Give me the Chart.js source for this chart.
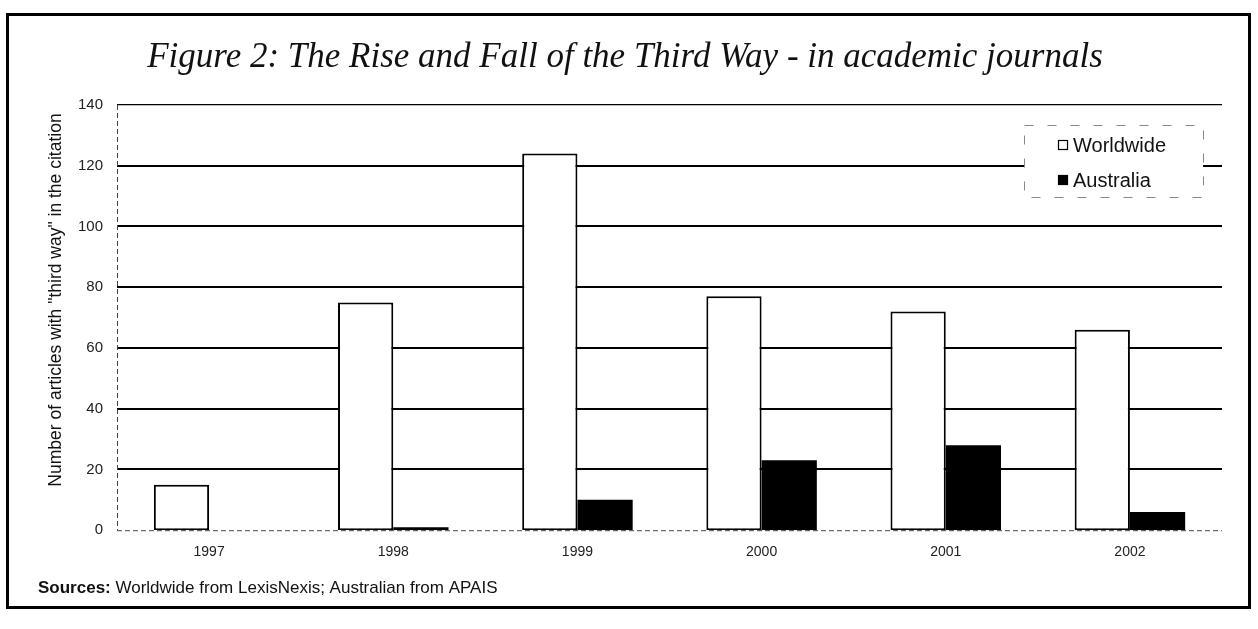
<!DOCTYPE html>
<html>
<head>
<meta charset="utf-8">
<title>The Rise and Fall of the Third Way</title>
<script src="https://cdn.jsdelivr.net/npm/chart.js@4.4.0/dist/chart.umd.min.js"></script>
<style>
  html, body { margin: 0; padding: 0; background: #fff; }
  #wrap { position: relative; width: 1258px; height: 629px; overflow: hidden; }
  #frame {
    position: absolute; left: 6px; top: 13px; width: 1239px; height: 590px;
    border: 3px solid #000; box-sizing: content-box;
  }
  #chart { position: absolute; left: 0; top: 0; }
</style>
</head>
<body>
<div id="wrap">
  <div id="frame"></div>
  <canvas id="chart" width="1258" height="629"></canvas>
</div>
<script>
// Articles citing "third way" in academic journals, by year
const years = ['1997', '1998', '1999', '2000', '2001', '2002'];
const worldwide = [15, 75, 124, 77, 72, 66];
const australia = [0, 1, 10, 23, 28, 6];
const yTicks = [0, 20, 40, 60, 80, 100, 120, 140];

const titleText = 'Figure 2: The Rise and Fall of the Third Way - in academic journals';
const yTitle = 'Number of articles with "third way" in the citation';
const sourceLead = 'Sources:';
const sourceText = ' Worldwide from LexisNexis; Australian from APAIS';

const sans = '"Liberation Sans", Arial, sans-serif';
const serif = '"Liberation Serif", "Times New Roman", serif';

// Figure heading, centred across the page
const figureTitle = {
  id: 'figureTitle',
  afterDraw(chart) {
    const ctx = chart.ctx;
    ctx.save();
    ctx.font = 'italic 35px ' + serif;
    ctx.fillStyle = '#111';
    ctx.textAlign = 'center';
    ctx.textBaseline = 'middle';
    ctx.fillText(titleText, 625, 58);
    ctx.restore();
  }
};

// Thin dashed axis lines along the left and bottom of the plot
const dashedAxes = {
  id: 'dashedAxes',
  beforeDatasetsDraw(chart) {
    const { ctx, chartArea: a } = chart;
    ctx.save();
    ctx.strokeStyle = '#444';
    ctx.lineWidth = 1;
    ctx.setLineDash([5, 3]);
    ctx.beginPath();
    ctx.moveTo(a.left + 0.5, a.top);
    ctx.lineTo(a.left + 0.5, a.bottom);
    ctx.moveTo(a.left, a.bottom + 0.5);
    ctx.lineTo(a.right, a.bottom + 0.5);
    ctx.stroke();
    ctx.restore();
  }
};

// Rotated title for the value axis
const valueAxisTitle = {
  id: 'valueAxisTitle',
  afterDraw(chart) {
    const ctx = chart.ctx;
    ctx.save();
    ctx.translate(56, 300);
    ctx.rotate(-Math.PI / 2);
    ctx.font = '17.5px ' + sans;
    ctx.fillStyle = '#111';
    ctx.textAlign = 'center';
    ctx.textBaseline = 'middle';
    ctx.fillText(yTitle, 0, 0);
    ctx.restore();
  }
};

// Boxed legend in the upper right of the plot, drawn over the grid
const boxLegend = {
  id: 'boxLegend',
  afterDraw(chart) {
    const ctx = chart.ctx;
    const x0 = 1024, y0 = 125, w = 179, h = 72;
    ctx.save();
    ctx.fillStyle = '#fff';
    ctx.fillRect(x0, y0, w, h);
    ctx.strokeStyle = '#888';
    ctx.lineWidth = 1;
    ctx.setLineDash([9, 14]);
    ctx.strokeRect(x0 + 0.5, y0 + 0.5, w, h);
    ctx.setLineDash([]);
    ctx.font = '20px ' + sans;
    ctx.textBaseline = 'middle';
    chart.data.datasets.forEach((d, i) => {
      const cy = 145 + i * 35;
      ctx.fillStyle = d.backgroundColor;
      ctx.fillRect(1058, cy - 5, 10, 10);
      ctx.strokeStyle = '#000';
      ctx.lineWidth = 1.2;
      ctx.strokeRect(1058.5, cy - 4.5, 9, 9);
      ctx.fillStyle = '#111';
      ctx.fillText(d.label, 1073, cy + 1);
    });
    ctx.restore();
  }
};

// Source note under the axis
const sourceNote = {
  id: 'sourceNote',
  afterDraw(chart) {
    const ctx = chart.ctx;
    ctx.save();
    ctx.textBaseline = 'alphabetic';
    ctx.fillStyle = '#111';
    ctx.font = 'bold 17px ' + sans;
    ctx.fillText(sourceLead, 38, 593);
    const lw = ctx.measureText(sourceLead).width;
    ctx.font = '17px ' + sans;
    ctx.fillText(sourceText, 38 + lw, 593);
    ctx.restore();
  }
};

new Chart(document.getElementById('chart'), {
  type: 'bar',
  data: {
    labels: years,
    datasets: [
      {
        label: 'Worldwide',
        data: worldwide,
        backgroundColor: '#ffffff',
        borderColor: '#000000',
        borderWidth: 2,
        borderSkipped: false
      },
      {
        label: 'Australia',
        data: australia,
        backgroundColor: '#000000',
        borderColor: '#000000',
        borderWidth: 0
      }
    ]
  },
  options: {
    responsive: false,
    animation: false,
    devicePixelRatio: 1,
    layout: { padding: { left: 64, right: 36, top: 105, bottom: 54 } },
    datasets: {
      bar: { categoryPercentage: 0.6, barPercentage: 1.0 }
    },
    plugins: {
      legend: { display: false },
      tooltip: { enabled: false },
      title: { display: false }
    },
    scales: {
      x: {
        grid: { display: false, drawTicks: false },
        border: { display: false },
        ticks: { color: '#222', font: { family: sans, size: 14 }, padding: 14 }
      },
      y: {
        min: 0,
        max: 140,
        afterBuildTicks(scale) { scale.ticks = yTicks.map(v => ({ value: v })); },
        grid: {
          drawTicks: false,
          color: '#000',
          lineWidth(ctx) {
            if (ctx.tick.value === 0) return 0;
            if (ctx.tick.value === 140) return 1.2;
            return 2;
          }
        },
        border: { display: false },
        ticks: { color: '#222', font: { family: sans, size: 15 }, padding: 14 }
      }
    }
  },
  plugins: [dashedAxes, figureTitle, valueAxisTitle, boxLegend, sourceNote]
});
</script>
</body>
</html>
